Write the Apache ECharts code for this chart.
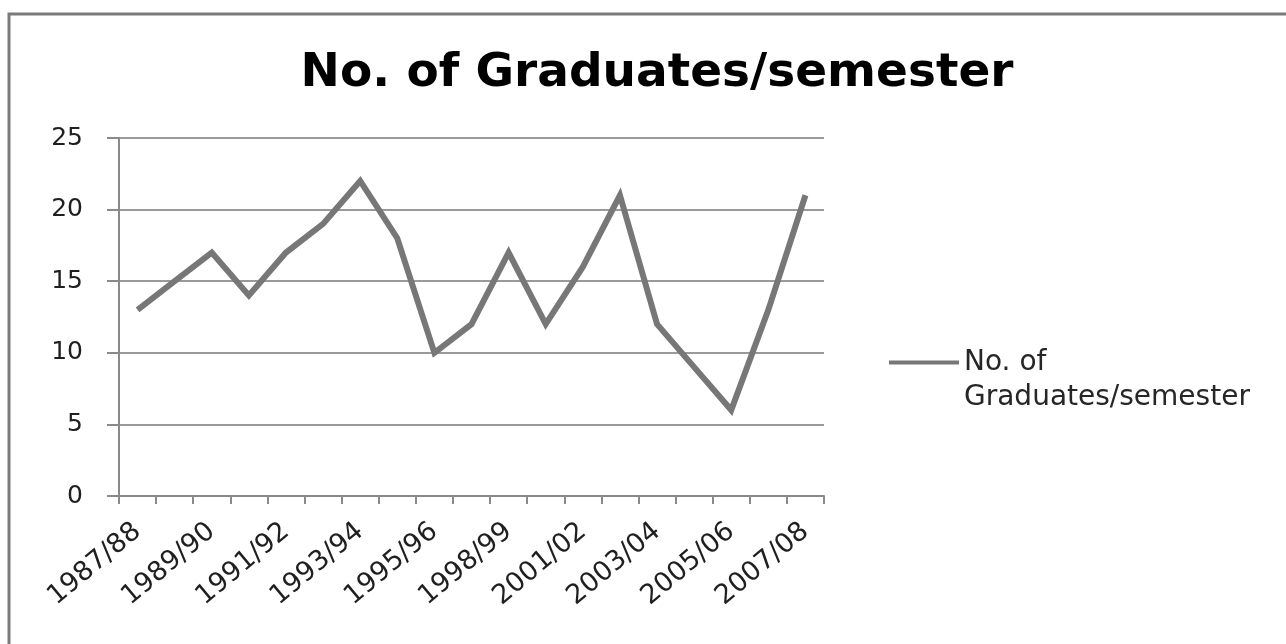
<!DOCTYPE html>
<html>
<head>
<meta charset="utf-8">
<script src="https://cdn.jsdelivr.net/npm/echarts@6/dist/echarts.min.js"></script>
<style>
  html, body { margin: 0; padding: 0; background: #ffffff; }
  #chart { width: 1286px; height: 644px; }
</style>
</head>
<body>
<div id="chart"></div>
<script>
// Academic years (every second one is labelled on the axis)
const years = [
  '1987/88', '1988/89', '1989/90', '1990/91', '1991/92', '1992/93',
  '1993/94', '1994/95', '1995/96', '1996/97', '1998/99', '1999/00',
  '2001/02', '2002/03', '2003/04', '2004/05', '2005/06', '2006/07', '2007/08'
];
// Graduates per semester in each year
const graduates = [13, 15, 17, 14, 17, 19, 22, 18, 10, 12, 17, 12, 16, 21, 12, 9, 6, 13, 21];
const seriesName = 'No. of Graduates/semester';
const yTicks = { min: 0, max: 25, interval: 5 };

const font = 'DejaVu Sans';
const chart = echarts.init(document.getElementById('chart'));
chart.setOption({
  backgroundColor: '#ffffff',
  animation: false,
  title: {
    text: seriesName,
    left: 652,
    textAlign: 'center',
    top: 45,
    textStyle: { fontFamily: font, fontWeight: 'bold', fontSize: 47, color: '#000000' }
  },
  graphic: [{
    type: 'rect',
    shape: { x: 9, y: 14, width: 1400, height: 800 },
    style: { fill: 'none', stroke: '#7a7a7a', lineWidth: 3 },
    silent: true
  }],
  legend: {
    left: 884,
    top: 305,
    orient: 'vertical',
    itemWidth: 70,
    itemHeight: 4,
    itemGap: 0,
    icon: 'rect',
    // blank first line keeps the key line level with "No. of"
    formatter: () => ' \nNo. of\nGraduates/semester',
    textStyle: { fontFamily: font, fontSize: 28, color: '#262626', lineHeight: 35 },
    data: [seriesName]
  },
  grid: { left: 119, right: 462, top: 138, bottom: 148, containLabel: false },
  xAxis: {
    type: 'category',
    data: years,
    boundaryGap: true,
    axisLine: { lineStyle: { color: '#8a8a8a', width: 2 } },
    axisTick: { show: true, length: 8, interval: 0, lineStyle: { color: '#8a8a8a', width: 2 } },
    axisLabel: {
      interval: 1, rotate: 40, margin: 32,
      fontFamily: font, fontSize: 27, color: '#1f1f1f'
    }
  },
  yAxis: {
    type: 'value',
    min: yTicks.min, max: yTicks.max, interval: yTicks.interval,
    axisLine: { show: true, lineStyle: { color: '#8a8a8a', width: 2 } },
    axisTick: { show: true, length: 12, lineStyle: { color: '#8a8a8a', width: 2 } },
    splitLine: { lineStyle: { color: '#9a9a9a', width: 2 } },
    axisLabel: { margin: 36, fontFamily: font, fontSize: 25, color: '#1f1f1f' }
  },
  series: [{
    name: seriesName,
    type: 'line',
    data: graduates,
    symbol: 'none',
    lineStyle: { color: '#777777', width: 6, join: 'miter' },
    itemStyle: { color: '#777777' }
  }]
});
</script>
</body>
</html>
